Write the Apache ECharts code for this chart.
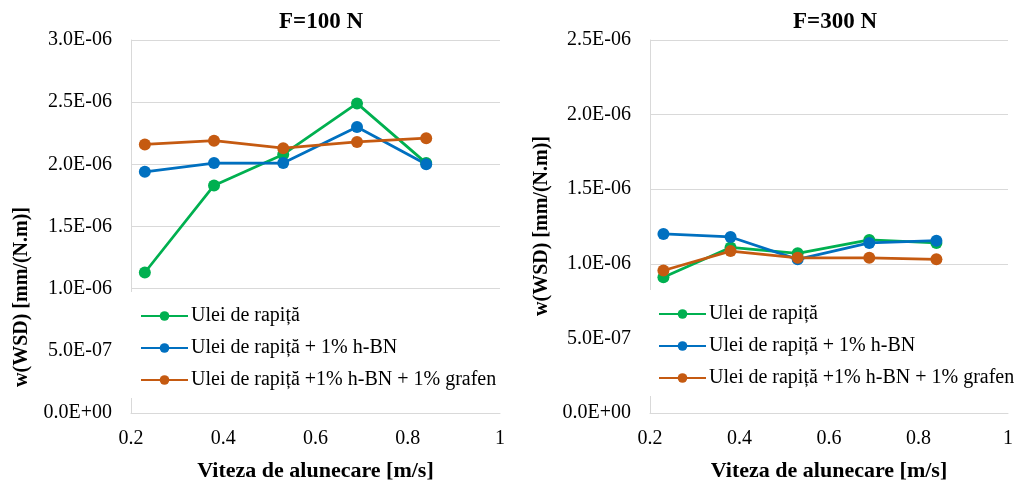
<!DOCTYPE html>
<html><head><meta charset="utf-8">
<script src="https://cdn.jsdelivr.net/npm/echarts@6/dist/echarts.min.js"></script>
<style>html,body{margin:0;padding:0;background:#fff}#c{width:1016px;height:484px}</style>
</head><body><div id="c"></div>
<script>
const speeds = [0.23, 0.38, 0.53, 0.69, 0.84];
const seriesNames = ['Ulei de rapiță', 'Ulei de rapiță + 1% h-BN', 'Ulei de rapiță +1% h-BN + 1% grafen'];
const f100_rapita = [1.13e-6, 1.83e-6, 2.08e-6, 2.49e-6, 2.01e-6];
const f100_hbn = [1.94e-6, 2.01e-6, 2.01e-6, 2.30e-6, 2.00e-6];
const f100_grafen = [2.16e-6, 2.19e-6, 2.13e-6, 2.18e-6, 2.21e-6];
const f300_rapita = [0.91e-6, 1.11e-6, 1.07e-6, 1.16e-6, 1.14e-6];
const f300_hbn = [1.20e-6, 1.18e-6, 1.03e-6, 1.14e-6, 1.155e-6];
const f300_grafen = [0.955e-6, 1.085e-6, 1.04e-6, 1.04e-6, 1.03e-6];
const titles = ['F=100 N', 'F=300 N'];
const xName = 'Viteza de alunecare [m/s]';
const yName = 'w(WSD) [mm/(N.m)]';
const colors = ['#00B050', '#0070C0', '#C55A11'];

const FONT = 'Liberation Serif';
function sci(v) {
  if (v === 0) return '0.0E+00';
  const s = v.toExponential(1).split('e');
  const e = parseInt(s[1], 10);
  const sign = e < 0 ? '-' : '+';
  const a = Math.abs(e);
  return s[0] + 'E' + sign + (a < 10 ? '0' + a : '' + a);
}
function pairs(xs, ys) { return xs.map((x, i) => [x, ys[i]]); }

const grids = [
  {left: 131, right: 516, top: 40, bottom: 71, containLabel: false, outerBoundsMode: 'none'},
  {left: 650, right: 8, top: 40, bottom: 71, containLabel: false, outerBoundsMode: 'none'}
];
const yMax = [3.0e-6, 2.5e-6];

const xAxes = grids.map((g, i) => ({
  type: 'value', gridIndex: i, min: 0.2, max: 1, interval: 0.2,
  name: xName, nameLocation: 'middle', nameGap: 47,
  nameTextStyle: {fontFamily: FONT, fontSize: 22, fontWeight: 'bold', color: '#000'},
  axisLine: {show: true, lineStyle: {color: '#D9D9D9', width: 1}},
  axisTick: {show: false},
  splitLine: {show: false},
  axisLabel: {fontFamily: FONT, fontSize: 20, color: '#000', margin: 16,
    formatter: v => (Math.abs(v - 1) < 1e-9 ? '1' : v.toFixed(1))}
}));
const yAxes = grids.map((g, i) => ({
  type: 'value', gridIndex: i, min: 0, max: yMax[i], interval: 0.5e-6,
  axisLine: {show: true, lineStyle: {color: '#D9D9D9', width: 1}},
  axisTick: {show: false},
  splitLine: {show: true, lineStyle: {color: '#D9D9D9', width: 1}},
  axisLabel: {fontFamily: FONT, fontSize: 20, color: '#000', margin: 19, formatter: sci}
}));

const dataSets = [[f100_rapita, f100_hbn, f100_grafen], [f300_rapita, f300_hbn, f300_grafen]];
const series = [];
dataSets.forEach((set, gi) => {
  set.forEach((vals, si) => {
    series.push({
      name: seriesNames[si], type: 'line', xAxisIndex: gi, yAxisIndex: gi,
      data: pairs(speeds, vals), symbol: 'circle', symbolSize: 12,
      lineStyle: {color: colors[si], width: 2.75},
      itemStyle: {color: colors[si]},
      emphasis: {disabled: true}, animation: false
    });
  });
});

const legendBase = {
  orient: 'vertical', data: seriesNames, itemWidth: 47, itemHeight: 12, itemGap: 12,
  backgroundColor: '#fff', padding: [14, 10, 8, 11],
  textStyle: {fontFamily: FONT, fontSize: 20, color: '#000', padding: [0, 0, 0, -2]},
  selectedMode: false, z: 10
};

const option = {
  animation: false,
  backgroundColor: '#fff',
  title: [
    {text: titles[0], left: 316, top: 6, textAlign: 'center',
     textStyle: {fontFamily: FONT, fontSize: 23, fontWeight: 'bold', color: '#000'}},
    {text: titles[1], left: 830, top: 6, textAlign: 'center',
     textStyle: {fontFamily: FONT, fontSize: 23, fontWeight: 'bold', color: '#000'}}
  ],
  grid: grids,
  xAxis: xAxes,
  yAxis: yAxes,
  legend: [
    Object.assign({}, legendBase, {left: 129, top: 292}),
    Object.assign({}, legendBase, {left: 647, top: 290})
  ],
  graphic: [
    {type: 'text', x: 22, y: 297, rotation: Math.PI / 2,
     style: {text: yName, font: 'bold 20px "Liberation Serif"', fill: '#000', textAlign: 'center', textVerticalAlign: 'middle'}},
    {type: 'text', x: 542, y: 226, rotation: Math.PI / 2,
     style: {text: yName, font: 'bold 20px "Liberation Serif"', fill: '#000', textAlign: 'center', textVerticalAlign: 'middle'}}
  ],
  series: series
};
const chart = echarts.init(document.getElementById('c'), null, {renderer: 'canvas'});
chart.setOption(option);
</script>
</body></html>
